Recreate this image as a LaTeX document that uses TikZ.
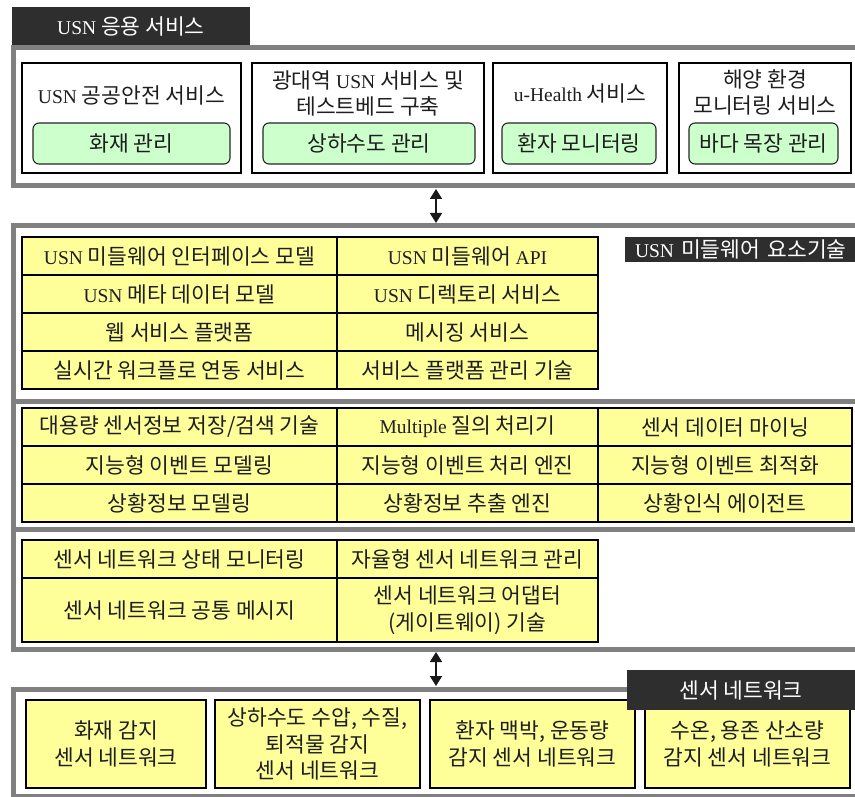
\documentclass[tikz,border=0pt]{standalone}
\usepackage{fontspec}
\setmainfont{Noto Sans CJK KR}
\newfontfamily\latf{Liberation Serif}
\newcommand\la[1]{{\latf\fontsize{19.5}{26.5}\selectfont #1}}
\usetikzlibrary{arrows.meta}
\definecolor{framegray}{HTML}{808080}
\definecolor{yellowfill}{HTML}{FFFF99}
\definecolor{greenfill}{HTML}{CCFFCC}
\definecolor{darkbg}{HTML}{2E2E2E}
\definecolor{txt}{HTML}{1E1E1E}
\tikzset{
  every node/.style={outer sep=0pt},
  kfont/.style={font=\fontsize{21.5}{26.5}\selectfont},
  frame/.style={draw=framegray, line width=5pt, inner sep=0pt, anchor=north west},
  darklabel/.style={fill=darkbg, text=white, inner sep=0pt, kfont},
  svcbox/.style={draw=black, line width=1.3pt, fill=white, inner sep=0pt},
  greenbox/.style={draw=black!85, line width=1.1pt, fill=greenfill, rounded corners=6pt, inner sep=0pt, text=txt, kfont},
  cell/.style={draw=black, line width=1.3pt, fill=yellowfill, inner sep=0pt, align=center, text=txt, kfont},
  lbl/.style={text=txt, align=center, inner sep=0pt, kfont},
  dbl/.style={{Triangle[length=10pt,width=12pt]}-{Triangle[length=10pt,width=12pt]}, line width=1.8pt, draw=black!90}
}
\begin{document}
\begin{tikzpicture}[x=1pt,y=-1pt]
\useasboundingbox (0,0) rectangle (855,797);
\fill[white] (0,0) rectangle (855,797);

% ---------- frames ----------
\node[frame, minimum width=880pt, minimum height=138pt] (appframe) at (13.5,47.5) {};
\node[frame, minimum width=880pt, minimum height=175.5pt] (mwframe) at (13.5,225.5) {};
\node[frame, minimum width=880pt, minimum height=128.5pt] (spframe) at (13.5,401) {};
\node[frame, minimum width=880pt, minimum height=120pt] (nwframe) at (13.5,529.5) {};
\node[frame, minimum width=880pt, minimum height=107pt] (snframe) at (13.5,689.5) {};

% ---------- application services ----------
\node[darklabel, minimum width=238pt, minimum height=38pt] (applabel) at (131,26) {\la{USN} 응용 서비스};

\node[svcbox, minimum width=219pt, minimum height=110pt] (svc1) at (131.5,118) {};
\node[svcbox, minimum width=232pt, minimum height=110pt] (svc2) at (368,118) {};
\node[svcbox, minimum width=174pt, minimum height=110pt] (svc3) at (580,118) {};
\node[svcbox, minimum width=172pt, minimum height=110pt] (svc4) at (765,118) {};

\node[lbl] (t1) at (131.5,95) {\la{USN} 공공안전 서비스};
\node[lbl] (t2) at (368,93.5) {광대역 \la{USN} 서비스 및\\테스트베드 구축};
\node[lbl] (t3) at (580,93) {\la{u-Health} 서비스};
\node[lbl] (t4) at (765,92.5) {해양 환경\\모니터링 서비스};

\node[greenbox, minimum width=197pt, minimum height=41pt] (g1) at (131.5,143.5) {화재 관리};
\node[greenbox, minimum width=212pt, minimum height=41pt] (g2) at (369,143.5) {상하수도 관리};
\node[greenbox, minimum width=154pt, minimum height=41pt] (g3) at (579,143.5) {환자 모니터링};
\node[greenbox, minimum width=149pt, minimum height=41pt] (g4) at (763.5,143.5) {바다 목장 관리};

% ---------- arrow 1 ----------
\coordinate (u1) at (436,189);
\coordinate (d1) at (436,223);
\draw[dbl] (u1) -- (d1);

% ---------- middleware ----------
\node[darklabel, minimum width=245pt, minimum height=25pt, text width=225pt, align=left, inner xsep=10pt] (mwlabel) at (747.5,249.5) {\la{USN} 미들웨어 요소기술};

\node[cell, minimum width=315pt, minimum height=38pt] (m11) at (179.5,256) {\la{USN} 미들웨어 인터페이스 모델};
\node[cell, minimum width=261pt, minimum height=38pt] (m12) at (467.5,256) {\la{USN} 미들웨어 \la{API}};
\node[cell, minimum width=315pt, minimum height=38pt] (m21) at (179.5,294) {\la{USN} 메타 데이터 모델};
\node[cell, minimum width=261pt, minimum height=38pt] (m22) at (467.5,294) {\la{USN} 디렉토리 서비스};
\node[cell, minimum width=315pt, minimum height=38pt] (m31) at (179.5,332) {웹 서비스 플랫폼};
\node[cell, minimum width=261pt, minimum height=38pt] (m32) at (467.5,332) {메시징 서비스};
\node[cell, minimum width=315pt, minimum height=38pt] (m41) at (179.5,370) {실시간 워크플로 연동 서비스};
\node[cell, minimum width=261pt, minimum height=38pt] (m42) at (467.5,370) {서비스 플랫폼 관리 기술};

% ---------- sensor processing ----------
\node[cell, minimum width=315pt, minimum height=38pt] (s11) at (179.5,427) {대용량 센서정보 저장/검색 기술};
\node[cell, minimum width=261pt, minimum height=38pt] (s12) at (467.5,427) {\la{Multiple} 질의 처리기};
\node[cell, minimum width=254pt, minimum height=38pt] (s13) at (725,427) {센서 데이터 마이닝};
\node[cell, minimum width=315pt, minimum height=38pt] (s21) at (179.5,465) {지능형 이벤트 모델링};
\node[cell, minimum width=261pt, minimum height=38pt] (s22) at (467.5,465) {지능형 이벤트 처리 엔진};
\node[cell, minimum width=254pt, minimum height=38pt] (s23) at (725,465) {지능형 이벤트 최적화};
\node[cell, minimum width=315pt, minimum height=38pt] (s31) at (179.5,503) {상황정보 모델링};
\node[cell, minimum width=261pt, minimum height=38pt] (s32) at (467.5,503) {상황정보 추출 엔진};
\node[cell, minimum width=254pt, minimum height=38pt] (s33) at (725,503) {상황인식 에이전트};

% ---------- network management ----------
\node[cell, minimum width=315pt, minimum height=38pt] (n11) at (179.5,559) {센서 네트워크 상태 모니터링};
\node[cell, minimum width=261pt, minimum height=38pt] (n12) at (467.5,559) {자율형 센서 네트워크 관리};
\node[cell, minimum width=315pt, minimum height=64pt] (n21) at (179.5,610) {센서 네트워크 공통 메시지};
\node[cell, minimum width=261pt, minimum height=64pt] (n22) at (467.5,610) {센서 네트워크 어댑터\\(게이트웨이) 기술};

% ---------- arrow 2 ----------
\coordinate (u2) at (436,652);
\coordinate (d2) at (436,686);
\draw[dbl] (u2) -- (d2);

% ---------- sensor networks ----------
\node[cell, minimum width=180pt, minimum height=88pt] (b1) at (116,744) {화재 감지\\센서 네트워크};
\node[cell, minimum width=205pt, minimum height=88pt] (b2) at (317.5,744) {상하수도 수압, 수질,\\퇴적물 감지\\센서 네트워크};
\node[cell, minimum width=205pt, minimum height=88pt] (b3) at (532.5,744) {환자 맥박, 운동량\\감지 센서 네트워크};
\node[cell, minimum width=205pt, minimum height=88pt] (b4) at (747.5,744) {수온, 용존 산소량\\감지 센서 네트워크};

\node[darklabel, minimum width=228pt, minimum height=40pt] (snlabel) at (741,690) {센서 네트워크};
\end{tikzpicture}
\end{document}
